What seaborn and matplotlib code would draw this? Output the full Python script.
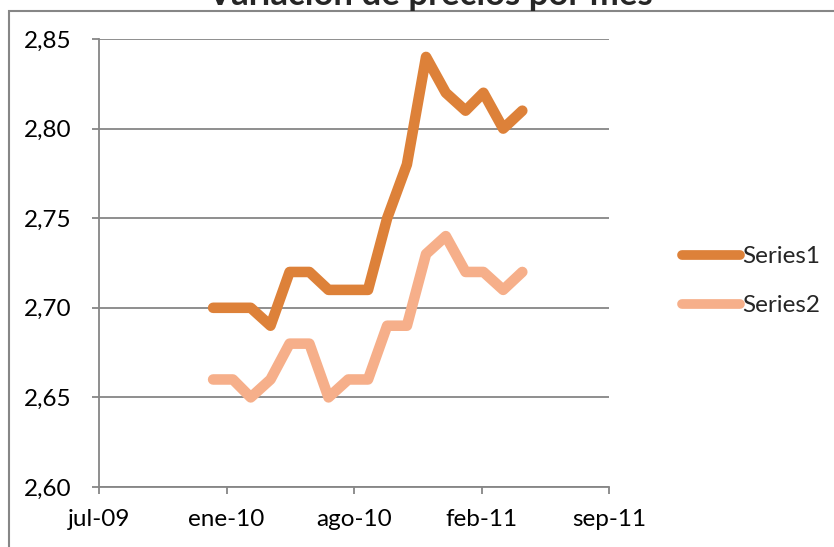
#Grafico de variacion de precios por mes
import numpy as np
import pandas as pd
import matplotlib
matplotlib.use("Agg")
import matplotlib.pyplot as plt
from matplotlib.patches import Rectangle
import seaborn as sns

#Datos (mensuales, ene-10 a may-11)
months = pd.date_range("2010-01-01", "2011-05-01", freq="MS")
series1 = [2.70, 2.70, 2.70, 2.69, 2.72, 2.72, 2.71, 2.71, 2.71, 2.75, 2.78, 2.84,
           2.82, 2.81, 2.82, 2.80, 2.81]
series2 = [2.66, 2.66, 2.65, 2.66, 2.68, 2.68, 2.65, 2.66, 2.66, 2.69, 2.69, 2.73,
           2.74, 2.72, 2.72, 2.71, 2.72]
series_names = ["Series1", "Series2"]
colors = ["#DD8139", "#F6AF8A"]

#Eje x: fechas de Excel cada 200 dias
x_ticks = pd.to_datetime(["2009-07-06", "2010-01-22", "2010-08-10", "2011-02-26", "2011-09-14"])
x_labels = ["jul-09", "ene-10", "ago-10", "feb-11", "sep-11"]
y_ticks = [2.60, 2.65, 2.70, 2.75, 2.80, 2.85]
y_labels = ["2,60", "2,65", "2,70", "2,75", "2,80", "2,85"]
title = "Variación de precios por mes"

df = pd.DataFrame({
    "fecha": list(months) * 2,
    "precio": series1 + series2,
    "serie": [series_names[0]] * len(series1) + [series_names[1]] * len(series2),
})

sns.set_style("white")
plt.rcParams["font.family"] = ["Lato", "DejaVu Sans"]

fig = plt.figure(figsize=(8.34, 5.47), dpi=100)
ax = fig.add_axes([99 / 834, 1 - 487 / 547, 510 / 834, 448 / 547])

sns.lineplot(data=df, x="fecha", y="precio", hue="serie", palette=colors,
             linewidth=7.6, solid_capstyle="round", solid_joinstyle="round",
             ax=ax, zorder=3)

grid_c = "#868686"
fs = 17.5
ax.set_xlim(x_ticks[0], x_ticks[-1])
ax.set_ylim(y_ticks[0], y_ticks[-1])
ax.set_xticks(x_ticks)
ax.set_xticklabels(x_labels, fontsize=fs)
ax.set_yticks(y_ticks)
ax.set_yticklabels(y_labels, fontsize=fs)
ax.set_xlabel("")
ax.set_ylabel("")
ax.yaxis.grid(True, color=grid_c, linewidth=1.3)
ax.xaxis.grid(False)
for s in ["top", "right"]:
    ax.spines[s].set_visible(False)
for s in ["left", "bottom"]:
    ax.spines[s].set_color(grid_c)
    ax.spines[s].set_linewidth(1.3)
ax.tick_params(axis="both", which="both", direction="out", color=grid_c,
               width=1.3, length=5, left=True, bottom=True, colors="black")
ax.tick_params(axis="y", pad=15)
ax.tick_params(axis="x", pad=11)
for t in ax.get_xticklines() + ax.get_yticklines():
    t.set_color(grid_c)

#Leyenda a la derecha
handles, labels = ax.get_legend_handles_labels()
for h in handles:
    h.set_linewidth(7)
    h.set_solid_capstyle("round")
ax.legend(handles, labels, loc="center left", bbox_to_anchor=(1.143, 0.459),
          frameon=False, fontsize=fs, handlelength=2.4, handletextpad=0.1,
          labelspacing=1.15, borderaxespad=0, borderpad=0)

#Titulo (cortado arriba como en el original)
fig.text(430 / 834, 1 - 5 / 547, title, ha="center", va="baseline",
         fontsize=25, fontweight="bold")

#Marco del area del grafico
fig.patches.append(Rectangle((8.5 / 834, -0.1), 2, 1.1 - 10.5 / 547,
                             transform=fig.transFigure, fill=False,
                             edgecolor=grid_c, linewidth=1.5))

fig.savefig("out.png", dpi=100)
